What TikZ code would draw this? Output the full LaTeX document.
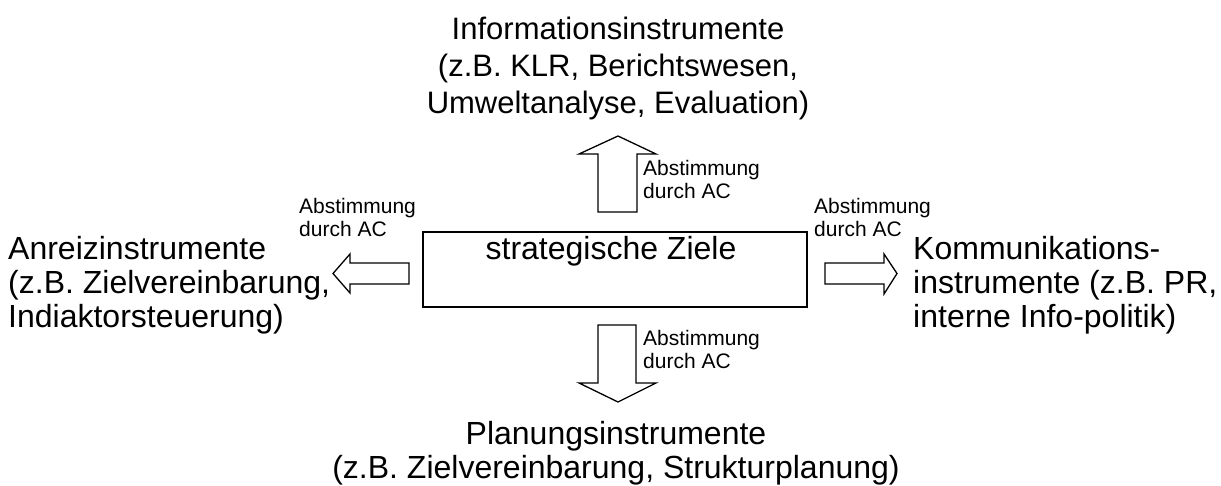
\documentclass[tikz,border=0pt]{standalone}
\usepackage{fontspec}
\setmainfont{Liberation Sans}
\begin{document}
\begin{tikzpicture}[x=1pt,y=-1pt,
  bigtop/.style={font=\fontsize{31}{37}\selectfont, inner sep=0pt, align=center},
  bigtext/.style={font=\fontsize{32}{34}\selectfont, inner sep=0pt},
  small/.style={font=\fontsize{21}{23}\selectfont, inner sep=0pt, align=left, anchor=north west},
  blockarrow/.style={draw=black, line width=1.3pt, fill=white, line join=miter},
  zielbox/.style={draw=black, line width=1.6pt, rectangle, minimum width=384pt, minimum height=75pt, inner sep=0pt}
]
\useasboundingbox (0,0) rectangle (1221,485);

% central box
\node[zielbox] (ziele) at (615,269.5) {};
\node[bigtext, anchor=base] (zieltext) at (611,259) {strategische Ziele};

% outer text blocks
\node[bigtop, anchor=north] (info) at (618,17) {Informationsinstrumente\\(z.B. KLR, Berichtswesen,\\Umweltanalyse, Evaluation)};
\node[bigtext, align=left, anchor=north west] (anreiz) at (8,236.5) {Anreizinstrumente\\(z.B. Zielvereinbarung,\\Indiaktorsteuerung)};
\node[bigtext, align=left, anchor=north west] (komm) at (913,236.5) {Kommunikations-\\instrumente (z.B. PR,\\interne Info-politik)};
\node[bigtext, align=center, anchor=north] (plan) at (616,421.5) {Planungsinstrumente\\(z.B. Zielvereinbarung, Strukturplanung)};

% block arrows
\draw[blockarrow] (598,212) -- (598,154) -- (579,154) -- (618,136) -- (656,154) -- (637,154) -- (637,212) -- cycle;
\draw[blockarrow] (598,325) -- (598,383) -- (579,383) -- (618,402) -- (656,383) -- (636,383) -- (636,325) -- cycle;
\draw[blockarrow] (409,263) -- (350,263) -- (350,254) -- (333,273.5) -- (350,293) -- (350,284) -- (409,284) -- cycle;
\draw[blockarrow] (825,263) -- (884,263) -- (884,254) -- (897,273.5) -- (884,294) -- (884,284) -- (825,284) -- cycle;

% small labels
\node[small] (labtop) at (643,160) {Abstimmung\\durch AC};
\node[small] (lableft) at (299,198) {Abstimmung\\durch AC};
\node[small] (labright) at (814,198) {Abstimmung\\durch AC};
\node[small] (labbot) at (643,330) {Abstimmung\\durch AC};
\end{tikzpicture}
\end{document}
